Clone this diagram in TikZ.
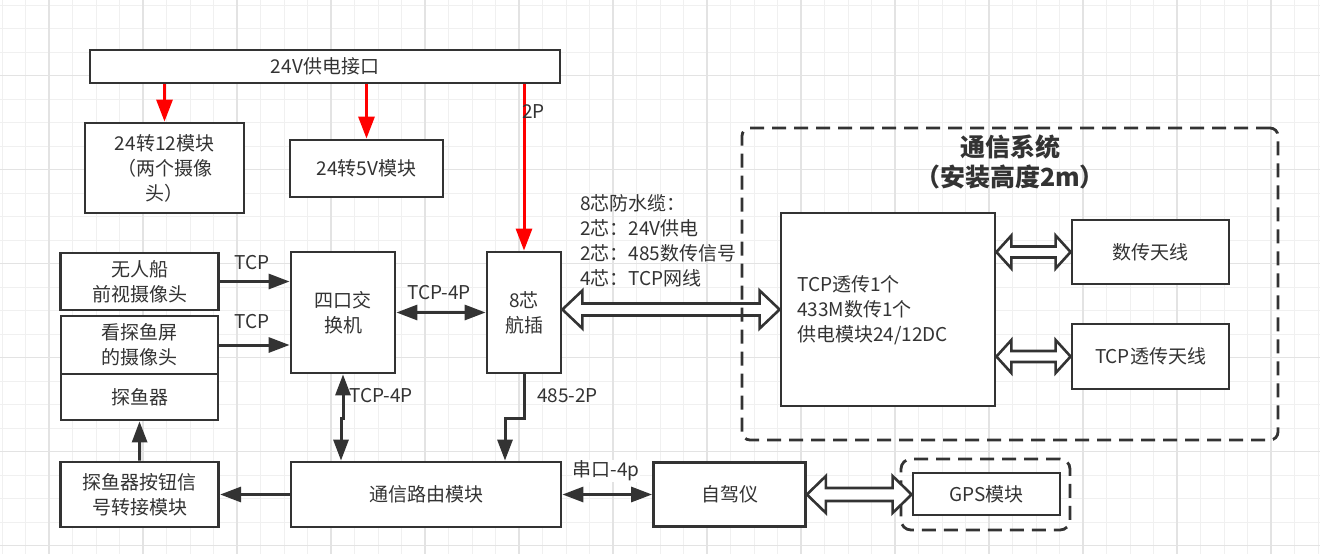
\documentclass[tikz,border=0pt]{standalone}
\usepackage{fontspec}
\setmainfont{Noto Sans CJK SC}
\usetikzlibrary{arrows.meta,calc}
\definecolor{ink}{HTML}{333333}
\definecolor{gmin}{HTML}{F0F0F0}
\definecolor{gmaj}{HTML}{E3E3E3}
\definecolor{pred}{HTML}{FF0000}
\newcommand\fs{\fontsize{19}{25}\selectfont}
\newcommand\hollowarr[5]{%
  \draw[harr] let \p1=#1, \p2=#2 in
    (\x1,\y1) -- (\x1+#3,\y1+#4) -- (\x1+#3,\y1+#5) -- (\x2-#3,\y1+#5)
    -- (\x2-#3,\y1+#4) -- (\x2,\y1) -- (\x2-#3,\y1-#4) -- (\x2-#3,\y1-#5)
    -- (\x1+#3,\y1-#5) -- (\x1+#3,\y1-#4) -- cycle;}
\tikzset{
  box/.style={draw=ink, line width=2.8pt, fill=white, text=ink, inner sep=0pt,
    align=center, font=\fs},
  lbl/.style={text=ink, inner sep=0pt, font=\fs},
  conn/.style={draw=ink, line width=3pt, -{Triangle[length=21pt,width=15pt]}},
  dconn/.style={draw=ink, line width=3pt,
    {Triangle[length=21pt,width=15pt]}-{Triangle[length=21pt,width=15pt]}},
  rconn/.style={draw=pred, line width=3pt, -{Triangle[length=22pt,width=16pt]}},
  harr/.style={draw=ink, line width=2.6pt, fill=white, line join=miter},
  dashbox/.style={draw=ink, line width=2.8pt, dash pattern=on 14pt off 8pt,
    rounded corners=8pt, inner sep=0pt},
}
\begin{document}
\begin{tikzpicture}[x=1pt,y=-1pt]
\useasboundingbox (0,0) rectangle (1320,554);
\fill[white] (0,0) rectangle (1320,554);
% grid
\foreach \i in {0,...,56} \draw[gmin, line width=1pt] ({2.2+23.5*\i},0) -- ({2.2+23.5*\i},554);
\foreach \j in {0,...,23} \draw[gmin, line width=1pt] (0,{5+23.5*\j}) -- (1320,{5+23.5*\j});
\foreach \i in {0,...,13} \draw[gmaj, line width=1.2pt] ({48.9+94*\i},0) -- ({48.9+94*\i},554);
\foreach \j in {0,...,5} \draw[gmaj, line width=1.2pt] (0,{75.3+94*\j}) -- (1320,{75.3+94*\j});

% boxes
\node[box, minimum width=470pt, minimum height=33pt] (v24) at (325,66.5) {24V供电接口};
\node[box, minimum width=159pt, minimum height=90pt] (m12) at (164.5,168) {24转12模块\\（两个摄像\\头）};
\node[box, minimum width=153pt, minimum height=57pt] (m5) at (366.5,168.5) {24转5V模块};
\node[box, minimum width=158pt, minimum height=57pt] (cam1) at (139.7,281.5) {无人船\\前视摄像头};
\node[box, minimum width=157pt, minimum height=58pt] (cam2) at (139.5,345) {看探鱼屏\\的摄像头};
\node[box, minimum width=157pt, minimum height=46pt] (fish) at (139.5,397) {探鱼器};
\node[box, minimum width=158pt, minimum height=65pt] (btn) at (139.7,494.5) {探鱼器按钮信\\号转接模块};
\node[box, minimum width=104pt, minimum height=121pt] (sw) at (343,312.5) {四口交\\换机};
\node[box, minimum width=74pt, minimum height=121pt] (hang) at (524,312.5) {8芯\\航插};
\node[box, minimum width=270pt, minimum height=65pt] (router) at (426,494.5) {通信路由模块};
\node[box, minimum width=152pt, minimum height=64pt] (ap) at (729.5,494.5) {自驾仪};
\node[box, minimum width=147pt, minimum height=42pt] (gps) at (986.5,494) {GPS模块};
\node[dashbox, minimum width=169pt, minimum height=71pt, rounded corners=10pt] (gpsout) at (985.5,494.5) {};
\node[box, minimum width=214pt, minimum height=193pt] (big) at (888,309.5) {};
\node[lbl, anchor=west, align=left] (bigtxt) at (797,310) {TCP透传1个\\433M数传1个\\供电模块24/12DC};
\node[box, minimum width=157pt, minimum height=64pt] (ant1) at (1150.5,252) {数传天线};
\node[box, minimum width=157pt, minimum height=65pt] (ant2) at (1150.5,356.5) {TCP透传天线};

% cable label
\node[lbl, anchor=west, align=left] (cable) at (580,241) {8芯防水缆：\\2芯：24V供电\\2芯：485数传信号\\4芯：TCP网线};

% hollow arrows
\hollowarr{(hang.east |- big.west)}{(big.west)}{20pt}{19pt}{6pt}
\hollowarr{(big.east |- ant1.west)}{(ant1.west)}{15pt}{16.5pt}{5.5pt}
\hollowarr{(big.east |- ant2.west)}{(ant2.west)}{15pt}{16.5pt}{5.5pt}
\hollowarr{(ap.east)}{(ap.east -| gps.west)}{19pt}{18.5pt}{6.5pt}

% communication system dashed box
\node[dashbox, minimum width=536pt, minimum height=312pt] (comm) at (1010,284) {};
\node[lbl, font=\fontsize{25}{30}\selectfont\bfseries, align=center] (title) at (1010,162) {通信系统\\（安装高度2m）};

% red power arrows
\draw[rconn] (v24.south -| m12.north) -- (m12.north);
\draw[rconn] (v24.south -| m5.north) -- (m5.north);
\draw[rconn] (v24.south -| hang.north) -- (hang.north);
\node[lbl, anchor=west] (l2p) at (522,112) {2P};

% black connectors
\draw[conn] (cam1.east) -- (cam1.east -| sw.west);
\draw[conn] (cam2.east) -- (cam2.east -| sw.west);
\node[lbl] (ltcp1) at (252,263) {TCP};
\node[lbl] (ltcp2) at (252,322) {TCP};
\draw[dconn] (sw.east) -- (hang.west);
\node[lbl] (ltcpa) at (439,293) {TCP-4P};
\coordinate (swj) at (341,0);
\draw[dconn] (sw.south) -- ++(0,44) -| (swj |- router.north);
\node[lbl, anchor=west] (ltcpb) at (349,396) {TCP-4P};
\coordinate (hj) at (505,0);
\draw[conn] (hang.south) -- ++(0,44) -| (hj |- router.north);
\node[lbl, anchor=west] (l485) at (537,396) {485-2P};
\draw[conn] (router.west) -- (btn.east);
\draw[conn] (btn.north) -- (fish.south);
\draw[dconn] (router.east) -- (ap.west);
\node[lbl, fill=white, inner sep=1pt] (lser) at (606,471) {串口-4p};
\end{tikzpicture}
\end{document}
